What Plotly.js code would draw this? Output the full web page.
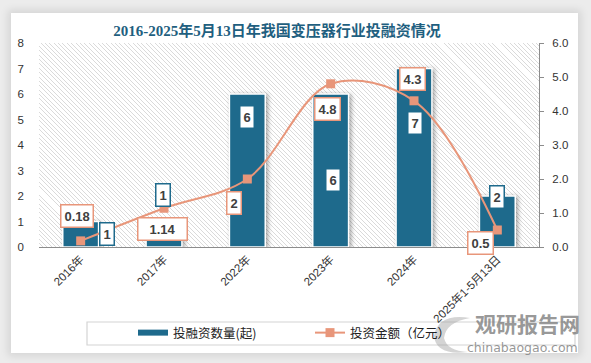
<!DOCTYPE html>
<html>
<head>
<meta charset="utf-8">
<script src="https://cdn.plot.ly/plotly-3.0.1.min.js"></script>
<style>
  html, body { margin: 0; padding: 0; background: #ececec; }
  #wrap { position: relative; width: 591px; height: 363px; overflow: hidden; }
  #card { position: absolute; left: 11px; top: 13px; width: 567px; height: 340px; background: #fff;
          box-shadow: 0 0 8px 3px rgba(0,0,0,0.10); }
  #hatch { position: absolute; left: 39px; top: 43px; width: 500px; height: 204px;
           background: repeating-linear-gradient(45deg, #ffffff 0px, #ffffff 2.4px, #dadada 2.4px, #dadada 3.1px); }
  #chart { position: absolute; left: 0; top: 0; width: 591px; height: 363px; }
  .trace.bars .point path { filter: drop-shadow(2px 1px 2px rgba(0,0,0,0.35)); }
</style>
</head>
<body>
<div id="wrap">
  <div id="card"></div>
  <div id="hatch"></div>
  <div id="chart"></div>
</div>
<script>
// ---- data ----
const categories = ["2016年", "2017年", "2022年", "2023年", "2024年", "2025年1-5月13日"];
const dealCounts = [1, 1, 6, 6, 7, 2];            // 投融资数量(起)
const dealAmounts = [0.18, 1.14, 2, 4.8, 4.3, 0.5]; // 投资金额（亿元）
const amountLabels = ["0.18", "1.14", "2", "4.8", "4.3", "0.5"];
const leftTicks = [0, 1, 2, 3, 4, 5, 6, 7, 8];
const rightTicks = [0, 1, 2, 3, 4, 5, 6];

// ---- label placement (pixel offsets) ----
const countLabelShift = [[26, -12], [-1, 27], [0, -23], [2, -86], [1, -54], [0, -1]];
const amountLabelShift = [[-4, 25], [-2, -21], [-13, -24], [-3, -25], [-2, 22], [-17, -13]];
const amountLabelWidth = [null, 42, null, null, null, null];

const BLUE = "#1e6a8c";
const ORANGE = "#e8967a";

// plot area in pixels, for converting page positions to paper coordinates
const PL = 39, PR = 539, PT = 43, PB = 247;
const px = v => (v - PL) / (PR - PL);
const py = v => (PB - v) / (PB - PT);

const traces = [
  {
    type: "bar", name: "投融资数量(起)", x: categories, y: dealCounts, yaxis: "y",
    width: 0.43, marker: { color: BLUE, line: { color: "#ffffff", width: 1.5 } },
    hoverinfo: "skip", showlegend: false
  },
  // legend entry for the bars, drawn as a thick line like the reference
  {
    type: "scatter", mode: "lines", name: "投融资数量(起)", x: [categories[0]], y: [null], yaxis: "y",
    line: { color: BLUE, width: 6 }, hoverinfo: "skip", showlegend: true
  },
  {
    type: "scatter", mode: "lines+markers", name: "投资金额（亿元）", x: categories, y: dealAmounts, yaxis: "y2",
    line: { color: ORANGE, width: 2, shape: "spline", smoothing: 1 },
    marker: { symbol: "square", size: 9, color: ORANGE },
    hoverinfo: "skip"
  }
];

const labelFont = { family: "Liberation Sans, Arial, sans-serif", size: 13, color: "#404040", weight: "bold" };
const annotations = [];
categories.forEach((c, i) => {
  annotations.push({
    x: c, y: dealCounts[i], xref: "x", yref: "y", text: "<b>" + dealCounts[i] + "</b>",
    showarrow: false, xshift: countLabelShift[i][0], yshift: countLabelShift[i][1],
    bgcolor: "#ffffff", bordercolor: BLUE, borderwidth: 1.5, borderpad: 3, font: labelFont
  });
  const a = {
    x: c, y: dealAmounts[i], xref: "x", yref: "y2", text: "<b>" + amountLabels[i] + "</b>",
    showarrow: false, xshift: amountLabelShift[i][0], yshift: amountLabelShift[i][1],
    bgcolor: "#ffffff", bordercolor: ORANGE, borderwidth: 1.5, borderpad: 3, font: labelFont
  };
  if (amountLabelWidth[i]) a.width = amountLabelWidth[i];
  annotations.push(a);
});
// watermark
annotations.push({
  xref: "paper", yref: "paper", x: px(582), y: py(323), xanchor: "right", yanchor: "middle",
  text: "<b>观研报告网</b>", showarrow: false,
  font: { family: "Noto Sans CJK SC", size: 21, color: "rgba(125,125,125,0.8)" }
});
annotations.push({
  xref: "paper", yref: "paper", x: px(580), y: py(347), xanchor: "right", yanchor: "middle",
  text: "chinabaogao.com", showarrow: false,
  font: { family: "DejaVu Sans, sans-serif", size: 12.5, color: "rgba(125,125,125,0.8)" }
});

const swirl = "M " + px(434) + "," + py(336) +
  " Q " + px(438) + "," + py(313) + " " + px(470) + "," + py(318) +
  " Q " + px(446) + "," + py(322) + " " + px(444) + "," + py(338) +
  " Q " + px(447) + "," + py(351) + " " + px(468) + "," + py(352) +
  " Q " + px(436) + "," + py(356) + " " + px(434) + "," + py(336) + " Z";

const layout = {
  width: 591, height: 363,
  margin: { l: 39, r: 52, t: 43, b: 116 },
  paper_bgcolor: "rgba(0,0,0,0)", plot_bgcolor: "rgba(0,0,0,0)",
  showlegend: true,
  title: {
    text: "<b>2016-2025年5月13日年我国变压器行业投融资情况</b>",
    x: 277 / 591, xanchor: "center", y: 1 - 31 / 363, yanchor: "middle",
    font: { family: "Liberation Serif, Noto Sans CJK SC, serif", size: 15, color: "#1f5f80" }
  },
  xaxis: {
    type: "category", categoryarray: categories, categoryorder: "array",
    tickangle: -45, showgrid: false, zeroline: false,
    showline: true, linecolor: "#8c8c8c", linewidth: 1.2, ticks: "",
    tickfont: { family: "Liberation Sans, Noto Sans CJK SC, sans-serif", size: 11.5, color: "#333" }
  },
  yaxis: {
    range: [0, 8], tickvals: leftTicks, showgrid: false, zeroline: false, showline: false,
    ticks: "", ticklabelstandoff: 14,
    tickfont: { family: "Liberation Sans, sans-serif", size: 11.5, color: "#333" }
  },
  yaxis2: {
    overlaying: "y", side: "right", range: [0, 6], tickvals: rightTicks, tickformat: ".1f",
    showgrid: false, zeroline: false, showline: true, linecolor: "#8c8c8c", linewidth: 1,
    ticks: "outside", ticklen: 4, tickcolor: "#8c8c8c", ticklabelstandoff: 6,
    tickfont: { family: "Liberation Sans, sans-serif", size: 11.5, color: "#333" }
  },
  legend: {
    orientation: "h", x: px(133), y: py(333),
    xanchor: "left", yanchor: "middle", bgcolor: "rgba(0,0,0,0)",
    font: { family: "Noto Sans CJK SC, sans-serif", size: 12.5, color: "#222" },
    entrywidth: 132, itemwidth: 30, traceorder: "normal"
  },
  shapes: [
    { type: "rect", xref: "paper", yref: "paper",
      x0: px(87), x1: px(575), y0: py(345), y1: py(322),
      line: { color: "#d4d4d4", width: 1.2 }, fillcolor: "rgba(0,0,0,0)", layer: "below" },
    { type: "path", xref: "paper", yref: "paper", path: swirl,
      fillcolor: "rgba(160,160,160,0.45)", line: { width: 0 }, layer: "above" }
  ],
  annotations: annotations
};

Plotly.newPlot("chart", traces, layout, { displayModeBar: false, staticPlot: true });
</script>
</body>
</html>
